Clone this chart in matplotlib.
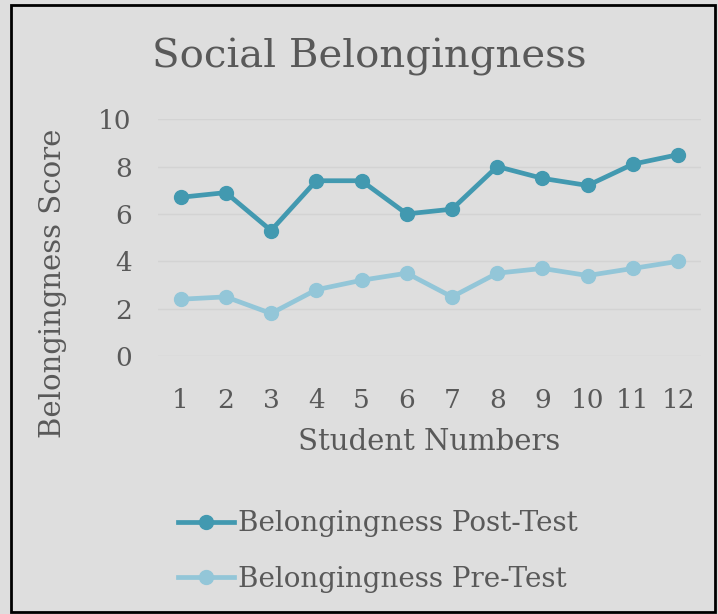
import matplotlib.pyplot as plt
from matplotlib.patches import Rectangle

students = [1, 2, 3, 4, 5, 6, 7, 8, 9, 10, 11, 12]
post_test = [6.7, 6.9, 5.3, 7.4, 7.4, 6.0, 6.2, 8.0, 7.5, 7.2, 8.1, 8.5]
pre_test = [2.4, 2.5, 1.8, 2.8, 3.2, 3.5, 2.5, 3.5, 3.7, 3.4, 3.7, 4.0]
yticks = [0, 2, 4, 6, 8, 10]

BG = '#dedede'
TXT = '#595959'
POST = '#4299b0'
PRE = '#93c6d8'

plt.rcParams['font.family'] = ['DejaVu Serif']

fig = plt.figure(figsize=(7.18, 6.14), dpi=100)
fig.patch.set_facecolor(BG)
ax = fig.add_axes([0.220, 0.420, 0.756, 0.386])
ax.set_facecolor(BG)

ax.plot(students, post_test, '-o', color=POST, lw=3.4, ms=10, label='Belongingness Post-Test')
ax.plot(students, pre_test, '-o', color=PRE, lw=3.4, ms=10, label='Belongingness Pre-Test')

ax.set_xlim(0.5, 12.5)
ax.set_ylim(0, 10)
ax.set_yticks(yticks)
ax.set_xticks(students)
ax.grid(axis='y', color='#d3d3d3', lw=1)
ax.set_axisbelow(True)
for s in ax.spines.values():
    s.set_visible(False)
ax.tick_params(length=0, labelsize=19, colors=TXT)
ax.tick_params(axis='y', pad=19)
ax.tick_params(axis='x', pad=23)

ax.set_xlabel('Student Numbers', fontsize=21, color=TXT, labelpad=11)
ax.set_ylabel('Belongingness Score', fontsize=21, color=TXT)
ax.yaxis.set_label_coords(-0.168, 0.308)
fig.text(0.515, 0.907, 'Social Belongingness', fontsize=29, color=TXT, ha='center', va='center')

fig.legend(loc='upper left', bbox_to_anchor=(0.233, 0.187), frameon=False, fontsize=20,
           labelcolor=TXT, handlelength=2.0, handletextpad=0.15, labelspacing=1.03,
           borderaxespad=0)

fig.patches.append(Rectangle((0.0153, 0.003), 0.98, 0.989, transform=fig.transFigure,
                             fill=False, edgecolor='black', lw=2))

fig.savefig('out.png', dpi=100, facecolor=BG)
